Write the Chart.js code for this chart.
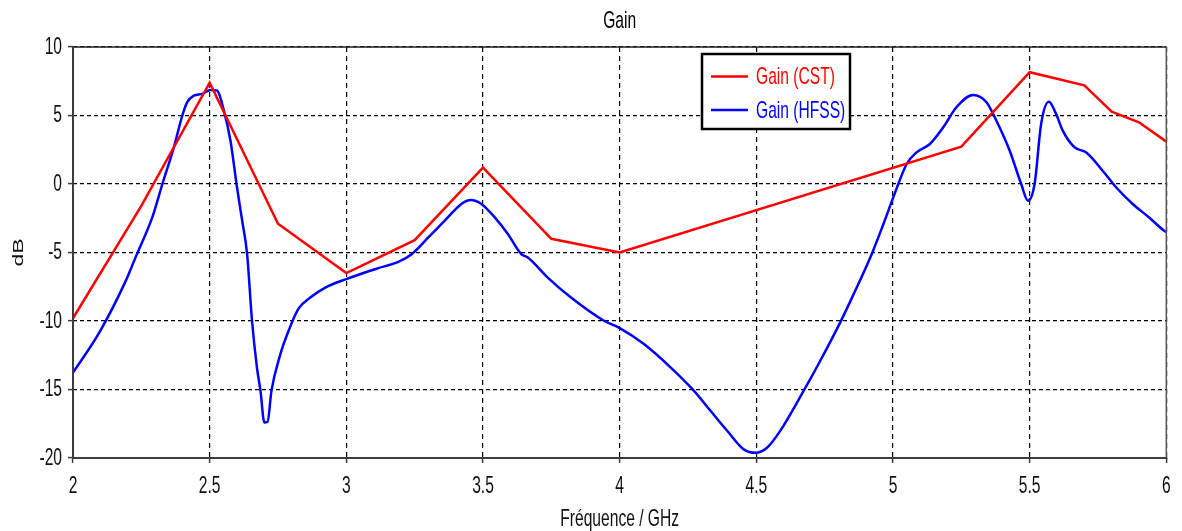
<!DOCTYPE html>
<html>
<head>
<meta charset="utf-8">
<script src="https://cdn.jsdelivr.net/npm/chart.js@4/dist/chart.umd.min.js"></script>
<style>
  html, body { margin: 0; padding: 0; background: #ffffff; }
  canvas { display: block; }
</style>
</head>
<body>
<canvas id="gainChart" width="1182" height="531"></canvas>
<script>
// Frequency axis (GHz) and gain (dB) values
const chartTitle = 'Gain';
const xTickValues = [2, 2.5, 3, 3.5, 4, 4.5, 5, 5.5, 6];
const yTickValues = [-20, -15, -10, -5, 0, 5, 10];

const cstFreq = [2.0, 2.25, 2.5, 2.75, 3.0, 3.25, 3.5, 3.75, 4.0, 5.25, 5.5, 5.7, 5.8, 5.9, 6.0];
const cstGain = [-9.8, -1.6, 7.4, -2.9, -6.5, -4.1, 1.2, -4.0, -5.0, 2.73, 8.16, 7.2, 5.28, 4.5, 3.09];

const hfssFreq = [
  2.000, 2.096, 2.193, 2.230, 2.290, 2.327, 2.369, 2.400, 2.418, 2.442,
  2.473, 2.503, 2.527, 2.552, 2.576, 2.600, 2.619, 2.637, 2.655, 2.673,
  2.686, 2.700, 2.712, 2.726, 2.759, 2.789, 2.825, 2.868, 2.923, 3.000,
  3.068, 3.117, 3.190, 3.239, 3.300, 3.360, 3.421, 3.455, 3.494, 3.543,
  3.591, 3.640, 3.664, 3.737, 3.822, 3.944, 3.997, 4.090, 4.187, 4.272,
  4.333, 4.394, 4.454, 4.497, 4.539, 4.588, 4.673, 4.734, 4.807, 4.856,
  4.922, 4.965, 5.001, 5.050, 5.086, 5.135, 5.184, 5.232, 5.293, 5.342,
  5.378, 5.427, 5.469, 5.494, 5.518, 5.542, 5.570, 5.597, 5.621, 5.664,
  5.706, 5.767, 5.816, 5.877, 5.937, 5.992, 6.000
];
const hfssGain = [
  -13.77, -10.85, -7.07, -5.3, -2.44, 0.0, 2.68, 5.0, 5.97, 6.45,
  6.58, 6.87, 6.82, 5.36, 3.17, -0.24, -2.68, -5.12, -10.0, -13.4,
  -15.1, -17.4, -17.35, -15.1, -12.4, -10.7, -9.1, -8.29, -7.56, -6.94,
  -6.46, -6.14, -5.68, -5.12, -3.9, -2.68, -1.46, -1.17, -1.46, -2.44,
  -3.65, -5.12, -5.37, -6.83, -8.29, -10.0, -10.48, -11.7, -13.4, -15.1,
  -16.57, -18.03, -19.37, -19.62, -19.25, -18.0, -15.1, -12.9, -10.1, -8.04,
  -5.12, -2.92, -0.98, 1.46, 2.31, 2.92, 4.14, 5.6, 6.5, 5.97,
  4.63, 2.43, 0.0, -1.22, 0.0, 4.39, 6.0, 5.1, 3.9, 2.68,
  2.31, 0.97, -0.24, -1.46, -2.44, -3.41, -3.5
];

const toPoints = (xs, ys) => xs.map((x, i) => ({ x: x, y: ys[i] }));

const FONT = "'Liberation Sans', Arial, sans-serif";
const TEXT_SQUASH = 0.65;
const TEXT_COLOR = '#111111';

// Narrow lettering: every text draw is compressed horizontally around its anchor
const narrowText = {
  id: 'narrowText',
  beforeInit(chart) {
    const ctx = chart.ctx;
    const fill = ctx.fillText.bind(ctx);
    ctx.fillText = function (text, x, y) {
      const m = ctx.getTransform();
      const p = m.transformPoint(new DOMPoint(x, y));
      ctx.save();
      ctx.setTransform(new DOMMatrix().translate(p.x, p.y).scale(TEXT_SQUASH, 1).translate(-p.x, -p.y).multiply(m));
      fill(text, x, y);
      ctx.restore();
    };
  }
};

// Frame around the plot and the centred heading above it
const plotFrame = {
  id: 'plotFrame',
  afterDatasetsDraw(chart) {
    const { ctx, chartArea: a } = chart;
    ctx.save();
    ctx.setLineDash([]);
    ctx.lineWidth = 1.5;
    ctx.strokeStyle = '#222222';
    ctx.beginPath();
    ctx.moveTo(a.left, a.top);
    ctx.lineTo(a.right, a.top);
    ctx.stroke();
    ctx.strokeStyle = '#555555';
    ctx.beginPath();
    ctx.moveTo(a.right, a.top);
    ctx.lineTo(a.right, a.bottom);
    ctx.stroke();
    ctx.lineWidth = 2;
    ctx.strokeStyle = '#3c3c3c';
    ctx.beginPath();
    ctx.moveTo(a.left, a.top - 1);
    ctx.lineTo(a.left, a.bottom);
    ctx.lineTo(a.right + 1, a.bottom);
    ctx.stroke();
    ctx.restore();
  },
  afterDraw(chart) {
    const { ctx, chartArea: a } = chart;
    ctx.save();
    ctx.fillStyle = '#000000';
    ctx.font = '24px ' + FONT;
    ctx.textAlign = 'center';
    ctx.textBaseline = 'middle';
    ctx.fillText(chartTitle, (a.left + a.right) / 2, 21);
    ctx.restore();
  }
};

// Boxed legend in the upper part of the plot
const boxedLegend = {
  id: 'boxedLegend',
  afterDraw(chart) {
    const ctx = chart.ctx;
    const box = { x: 702, y: 54, w: 148, h: 75 };
    ctx.save();
    ctx.fillStyle = '#ffffff';
    ctx.fillRect(box.x, box.y, box.w, box.h);
    ctx.setLineDash([]);
    ctx.lineWidth = 2.5;
    ctx.strokeStyle = '#000000';
    ctx.strokeRect(box.x, box.y, box.w, box.h);
    chart.data.datasets.forEach((ds, i) => {
      const y = 76.5 + i * 33.5;
      ctx.strokeStyle = ds.borderColor;
      ctx.lineWidth = 2.5;
      ctx.beginPath();
      ctx.moveTo(711, y);
      ctx.lineTo(748, y);
      ctx.stroke();
      ctx.fillStyle = ds.borderColor;
      ctx.font = '24px ' + FONT;
      ctx.textAlign = 'left';
      ctx.textBaseline = 'middle';
      ctx.fillText(ds.label, 756, y + 1);
    });
    ctx.restore();
  }
};

const gridStyle = {
  color: '#000000',
  lineWidth: 1.2,
  drawTicks: true,
  tickLength: 5,
  tickColor: '#3c3c3c',
  tickWidth: 1.5,
  tickBorderDash: []
};

new Chart(document.getElementById('gainChart'), {
  type: 'line',
  data: {
    datasets: [
      {
        label: 'Gain (CST)',
        data: toPoints(cstFreq, cstGain),
        borderColor: '#ff0000',
        borderWidth: 2.5,
        pointRadius: 0,
        tension: 0,
        fill: false
      },
      {
        label: 'Gain (HFSS)',
        data: toPoints(hfssFreq, hfssGain),
        borderColor: '#0000ff',
        borderWidth: 2.5,
        pointRadius: 0,
        cubicInterpolationMode: 'monotone',
        fill: false
      }
    ]
  },
  options: {
    responsive: false,
    animation: false,
    devicePixelRatio: 1,
    layout: { padding: { left: 0, right: 7, top: 47, bottom: 0 } },
    plugins: {
      legend: { display: false },
      tooltip: { enabled: false },
      title: { display: false }
    },
    scales: {
      x: {
        type: 'linear',
        min: 2,
        max: 6,
        afterBuildTicks: (s) => { s.ticks = xTickValues.map(v => ({ value: v })); },
        afterFit: (s) => { s.height = 73; },
        ticks: {
          color: TEXT_COLOR,
          font: { family: FONT, size: 24 },
          padding: 9,
          maxRotation: 0,
          autoSkip: false,
          callback: (v) => String(v)
        },
        grid: gridStyle,
        border: { display: false, dash: [5, 4] },
        title: {
          display: true,
          text: 'Fréquence / GHz',
          color: TEXT_COLOR,
          font: { family: FONT, size: 24, lineHeight: 1.0 },
          padding: { top: 0, bottom: 0 }
        }
      },
      y: {
        type: 'linear',
        min: -20,
        max: 10,
        afterBuildTicks: (s) => { s.ticks = yTickValues.map(v => ({ value: v })); },
        afterFit: (s) => { s.width = 73; },
        ticks: {
          color: TEXT_COLOR,
          font: { family: FONT, size: 24 },
          padding: 6,
          autoSkip: false,
          callback: (v) => String(v)
        },
        grid: gridStyle,
        border: { display: false, dash: [4, 3] },
        title: {
          display: true,
          text: 'dB',
          color: TEXT_COLOR,
          font: { family: FONT, size: 23, lineHeight: 1.2 },
          padding: { top: 5, bottom: 0 }
        }
      }
    }
  },
  plugins: [narrowText, plotFrame, boxedLegend]
});
</script>
</body>
</html>
